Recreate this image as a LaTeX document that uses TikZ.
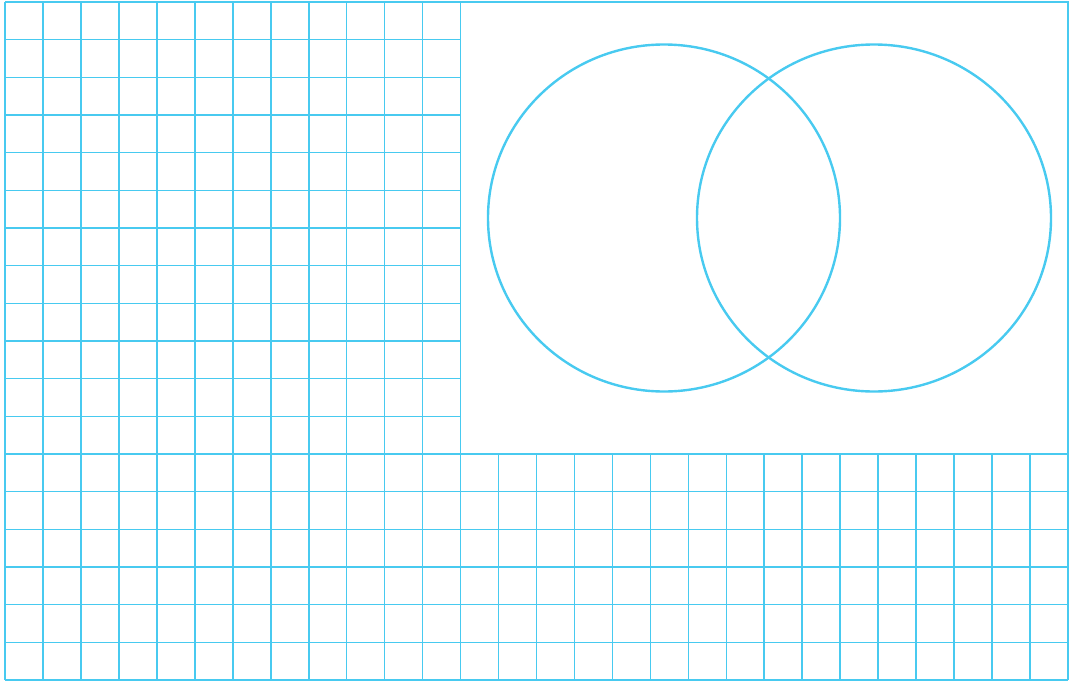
\documentclass[tikz,border=0pt]{standalone}
\begin{document}
\begin{tikzpicture}[x=1pt,y=-1pt,
  gridline/.style={draw=gridcyan,line width=1.6pt},
  ring/.style={draw=gridcyan,line width=2.4pt}]
\definecolor{gridcyan}{RGB}{72,202,240}
\useasboundingbox (0,0) rectangle (1070,682);
\pgfmathsetmacro{\dx}{(1068-5)/28}
\pgfmathsetmacro{\dy}{(680-2)/18}
% left part: columns 0..12, full height
\foreach \i in {0,...,12}{
  \draw[gridline] ({5+\i*\dx},2) -- ({5+\i*\dx},680);
}
% lower right part vertical lines
\foreach \i in {13,...,28}{
  \draw[gridline] ({5+\i*\dx},{2+12*\dy}) -- ({5+\i*\dx},680);
}
% horizontal lines, left part
\foreach \j in {0,...,11}{
  \draw[gridline] (5,{2+\j*\dy}) -- ({5+12*\dx},{2+\j*\dy});
}
% horizontal lines, full width
\foreach \j in {12,...,18}{
  \draw[gridline] (5,{2+\j*\dy}) -- (1068,{2+\j*\dy});
}
% box border
\draw[gridline] ({5+12*\dx},2) -- (1068,2) -- (1068,{2+12*\dy});
% circles
\draw[ring] (664,218) ellipse [x radius=176, y radius=173.5];
\draw[ring] (874,218) ellipse [x radius=177, y radius=173.5];
\end{tikzpicture}
\end{document}
